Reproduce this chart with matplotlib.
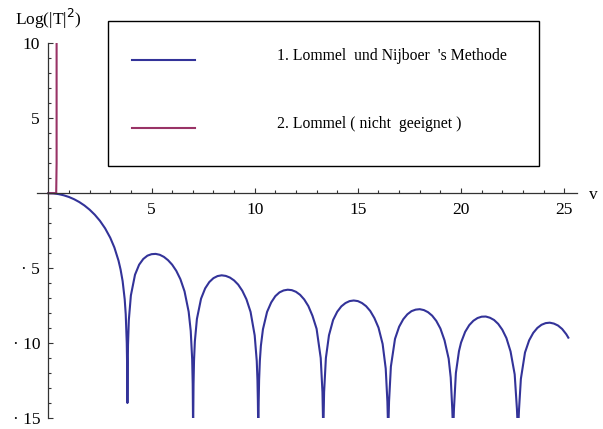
import matplotlib.pyplot as plt
from matplotlib.lines import Line2D
from matplotlib.patches import Rectangle

# ── Daten ─────────────────────────────────────────────────
v = [0, 0.25, 0.5, 0.75, 1.0, 1.25, 1.5, 1.75, 2.0, 2.25,
     2.5, 2.75, 3.0, 3.2, 3.4, 3.5, 3.6, 3.7, 3.75, 3.8,
     3.815, 3.832, 3.845, 3.86, 3.9, 4.0, 4.2, 4.4, 4.6, 4.8, 5.0, 5.2,
     5.4, 5.6, 5.8, 6.0, 6.2, 6.4, 6.6, 6.8, 6.9, 6.97,
     6.996, 7.016, 7.036, 7.06, 7.1, 7.2, 7.4, 7.6, 7.8, 8.0, 8.2, 8.4,
     8.6, 8.8, 9.0, 9.2, 9.4, 9.6, 9.8, 10.0, 10.1, 10.134, 10.154, 10.174,
     10.194, 10.214, 10.25, 10.3, 10.4, 10.6, 10.8, 11.0, 11.2, 11.4, 11.6, 11.8,
     12.0, 12.2, 12.4, 12.6, 12.8, 13.0, 13.2, 13.284, 13.324, 13.364, 13.45, 13.6,
     13.8, 14.0, 14.2, 14.4, 14.6, 14.8, 15.0, 15.2, 15.4, 15.6,
     15.8, 16.0, 16.2, 16.35, 16.431, 16.471, 16.511, 16.6, 16.8, 17.0, 17.2, 17.4,
     17.6, 17.8, 18.0, 18.2, 18.4, 18.6, 18.8, 19.0, 19.2, 19.4,
     19.5, 19.576, 19.616, 19.656, 19.75, 19.9, 20.0, 20.2, 20.4, 20.6, 20.8, 21.0,
     21.2, 21.4, 21.6, 21.8, 22.0, 22.2, 22.4, 22.6, 22.71, 22.76, 22.81, 22.9,
     23.1, 23.3, 23.5, 23.7, 23.9, 24.1, 24.3, 24.5, 24.7, 24.9,
     25.1, 25.2]
log_t2 = [0, -0.016, -0.063, -0.143, -0.255, -0.405, -0.592, -0.822, -1.101, -1.437,
          -1.844, -2.344, -2.974, -3.624, -4.50, -5.09, -5.87, -7.08, -8.08, -10.0,
          -11.27, -14.0, -11.81, -10.14, -8.47, -6.82, -5.44, -4.77, -4.39, -4.17, -4.07, -4.05,
          -4.11, -4.25, -4.47, -4.77, -5.18, -5.74, -6.55, -7.91, -9.19, -11.08,
          -12.74, -16, -12.74, -11.17, -9.89, -8.39, -7.04, -6.35, -5.93, -5.67, -5.53, -5.48,
          -5.52, -5.63, -5.82, -6.10, -6.51, -7.08, -7.92, -9.49, -11.2, -12.47, -13.85, -16,
          -13.85, -12.47, -11.18, -10.18, -9.08, -7.92, -7.29, -6.87, -6.62, -6.49, -6.44, -6.47,
          -6.58, -6.78, -7.09, -7.53, -8.18, -9.05, -11.0, -13.27, -16, -13.27, -11.0, -9.48,
          -8.46, -7.91, -7.55, -7.33, -7.20, -7.16, -7.20, -7.33, -7.54, -7.86,
          -8.33, -8.97, -10.06, -11.7, -13.91, -16, -13.91, -11.57, -9.72, -8.91, -8.41, -8.08,
          -7.87, -7.77, -7.74, -7.80, -7.94, -8.17, -8.52, -9.03, -9.82, -11.04,
          -12.3, -14.43, -16, -14.43, -12.0, -10.54, -9.97, -9.25, -8.80, -8.51, -8.33, -8.24,
          -8.23, -8.31, -8.46, -8.72, -9.11, -9.67, -10.56, -12.09, -14.43, -16, -14.43, -12.39,
          -10.63, -9.82, -9.32, -8.99, -8.78, -8.67, -8.64, -8.70, -8.83, -9.06,
          -9.41, -9.64]

# Lommel (nicht geeignet): divergiert sofort
v_lommel = [0.0, 0.2, 0.38, 0.40, 0.40]
log_lommel = [0.0, 0.0, 0.0, 2.0, 12.0]

x_ticks = [5, 10, 15, 20, 25]
y_ticks = [-15, -10, -5, 5, 10]
y_labels = ["· 15", "· 10", "· 5", "5", "10"]

legend_labels = ["1. Lommel  und Nijboer  's Methode",
                 "2. Lommel ( nicht  geeignet )"]

blue = "#333399"
purple = "#993366"
axcol = "#333333"

plt.rcParams['font.family'] = ['Liberation Serif', 'DejaVu Serif']

W, H = 603, 429
fig = plt.figure(figsize=(W / 100, H / 100), dpi=100)

def fx(px):
    return px / W

def fy(py):
    return 1 - py / H

# ── Achsen ────────────────────────────────────────────────
x0, x1 = -0.55, 25.62
y0, y1 = -15, 10
ax = fig.add_axes([fx(37), fy(418), fx(577) - fx(37), fy(43.3) - fy(418)])
ax.set_xlim(x0, x1)
ax.set_ylim(y0, y1)

ax.plot(v, log_t2, color=blue, lw=1.5, solid_joinstyle='round')
ax.plot(v_lommel, log_lommel, color=purple, lw=1.5)

for s in ['top', 'right']:
    ax.spines[s].set_visible(False)
ax.spines['left'].set_position(('data', 0))
ax.spines['bottom'].set_position(('data', 0))
for s in ['left', 'bottom']:
    ax.spines[s].set_color(axcol)
    ax.spines[s].set_linewidth(0.9)

ax.set_xticks(x_ticks)
ax.set_xticks(range(1, 26), minor=True)
ax.set_yticks(y_ticks)
ax.set_yticklabels(y_labels)
ax.set_yticks(range(-15, 11), minor=True)
ax.tick_params(which='both', direction='in', color=axcol, width=0.8,
               labelsize=12.5)
ax.tick_params(which='major', length=3.5)
ax.tick_params(which='minor', length=2)
ax.tick_params(axis='x', pad=6)
ax.tick_params(axis='y', pad=6)

# Achsenbeschriftungen
fig.text(fx(15), fy(25), "Log(|T|$^2$)", fontsize=12.5, va='baseline', ha='left')
fig.text(fx(589), fy(195), "v", fontsize=12.5, va='center', ha='left')

# ── Legende ───────────────────────────────────────────────
fig.patches.append(Rectangle((fx(108), fy(166)), fx(539) - fx(108), fy(21) - fy(166),
                             transform=fig.transFigure, fill=False,
                             edgecolor='black', lw=1.0))
for col, lab, py in zip([blue, purple], legend_labels, [60, 128]):
    fig.lines.append(Line2D([fx(132), fx(195)], [fy(py), fy(py)],
                            transform=fig.transFigure, color=col, lw=1.5))
    fig.text(fx(277), fy(py), lab, fontsize=11.3, va='baseline', ha='left')

fig.savefig("out.png", dpi=100)
